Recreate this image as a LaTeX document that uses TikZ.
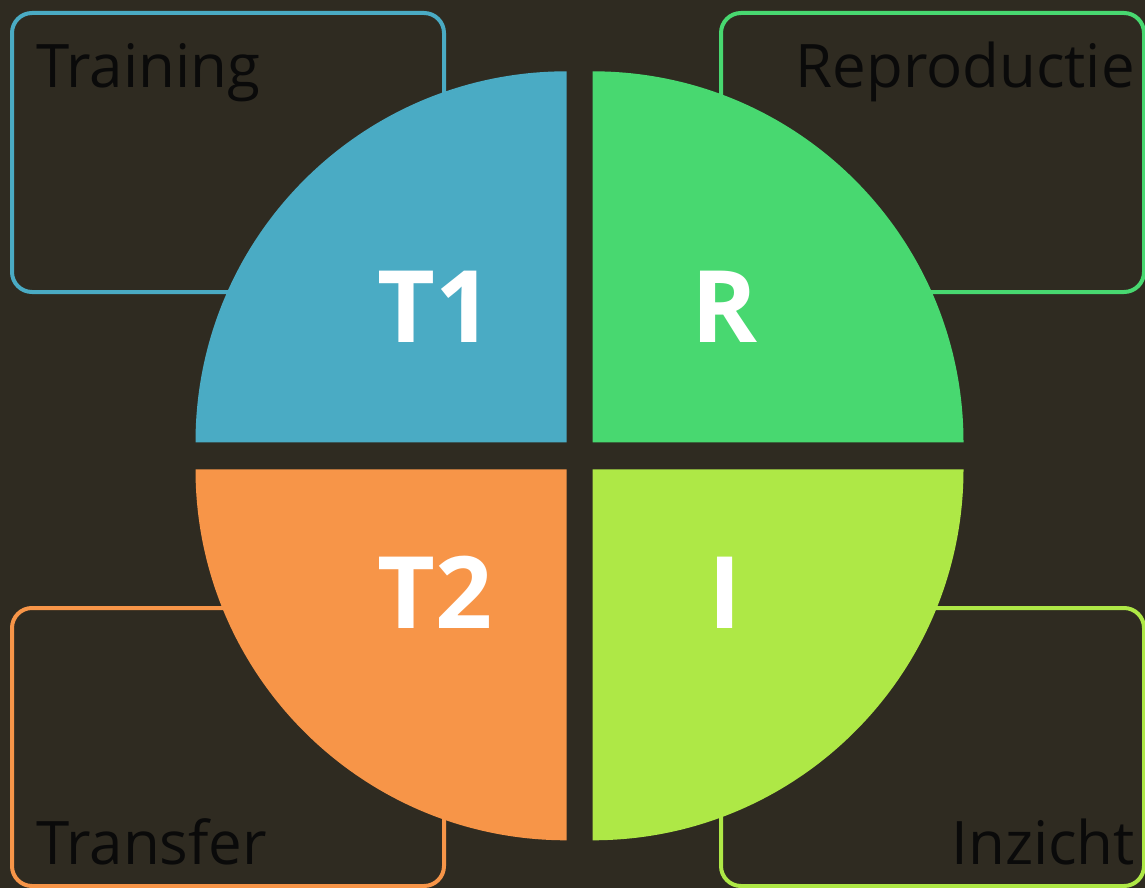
\documentclass[tikz,border=0pt]{standalone}
\usepackage{fontspec}
\setmainfont{Open Sans}
\definecolor{bg}{HTML}{2F2B21}
\definecolor{cblue}{HTML}{4AABC4}
\definecolor{cgreen}{HTML}{48D870}
\definecolor{corange}{HTML}{F79548}
\definecolor{clime}{HTML}{AEE846}
\definecolor{ink}{HTML}{0A0A0A}
\begin{document}
\begin{tikzpicture}[x=1pt,y=-1pt,
  boxframe/.style={line width=4pt,rounded corners=20pt},
  boxtext/.style={font=\fontsize{60}{60}\selectfont,text=ink,inner sep=0pt},
  quadlabel/.style={font=\fontsize{100}{100}\selectfont\bfseries,text=white,inner sep=0pt}]
\useasboundingbox (0,0) rectangle (1145,888);
\fill[bg] (0,0) rectangle (1145,888);
% boxes
\draw[boxframe,cblue] (12,13) rectangle (444,292);
\draw[boxframe,cgreen] (721,13) rectangle (1144,292);
\draw[boxframe,corange] (12,608) rectangle (444,886);
\draw[boxframe,clime] (721,608) rectangle (1144,886);
% quadrants
\def\r{371}
\fill[cblue] (566.5,442.3) -- (195.5,442.3) arc[start angle=180,end angle=270,radius=\r] -- cycle;
\fill[cgreen] (592.5,442.3) -- (592.5,71.3) arc[start angle=270,end angle=360,radius=\r] -- cycle;
\fill[corange] (566.5,469.3) -- (566.5,840.3) arc[start angle=90,end angle=180,radius=\r] -- cycle;
\fill[clime] (592.5,469.3) -- (963.5,469.3) arc[start angle=0,end angle=90,radius=\r] -- cycle;
% labels
\node[boxtext,anchor=base west] (training) at (36,88) {Training};
\node[boxtext,anchor=base east] (repro) at (1135,88) {Reproductie};
\node[boxtext,anchor=base west] (transfer) at (36,864) {Transfer};
\node[boxtext,anchor=base east] (inzicht) at (1135,864) {Inzicht};
\node[quadlabel,anchor=base west] (t1) at (377,342) {T1};
\node[quadlabel,anchor=base west] (r) at (691,342) {R};
\node[quadlabel,anchor=base west] (t2) at (377,628) {T2};
\node[quadlabel,anchor=base west] (i) at (708,628) {I};
\end{tikzpicture}
\end{document}
